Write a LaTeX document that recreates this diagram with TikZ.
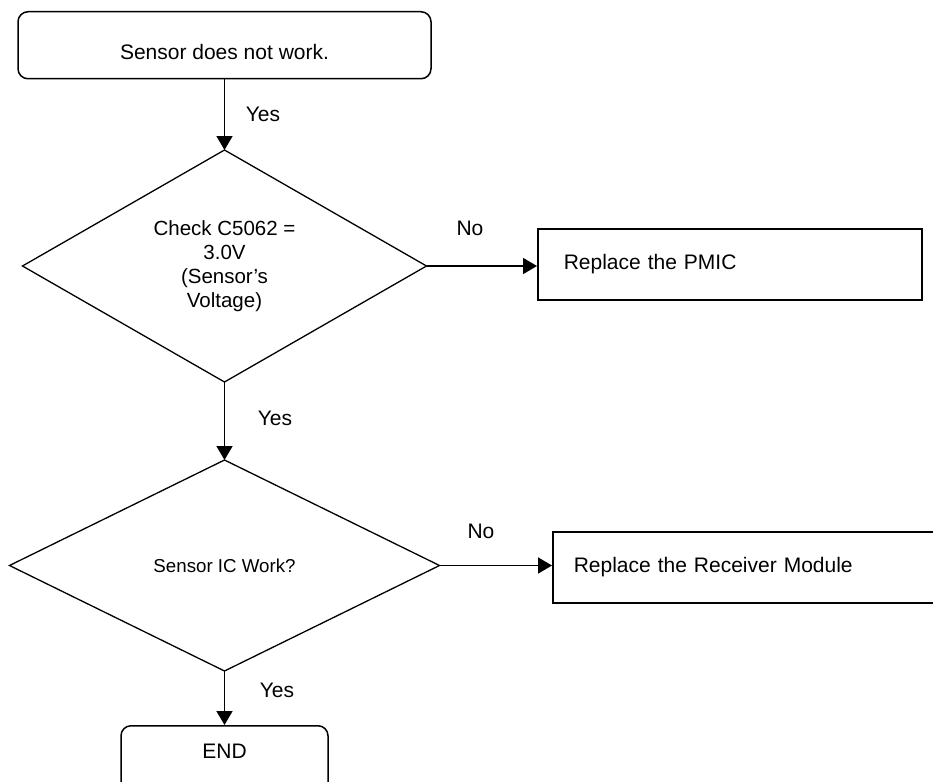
\documentclass[tikz,border=0pt]{standalone}
\usepackage{fontspec}
\setmainfont{Liberation Sans}
\usetikzlibrary{shapes.geometric,arrows.meta}
\begin{document}
\begin{tikzpicture}[
    x=1pt, y=-1pt,
    every node/.style={font=\fontsize{21}{24}\selectfont},
    terminal/.style={rectangle, rounded corners=10pt, draw, line width=1.5pt, inner sep=0pt},
    decision/.style={diamond, draw, line width=1.3pt, inner sep=0pt, outer sep=0pt, align=center},
    action/.style={rectangle, draw, line width=1.5pt, minimum height=71pt, align=left},
    flow/.style={-{Triangle[length=14pt,width=16pt]}, line width=1.7pt},
    answer/.style={inner sep=0pt}
]
    \clip (0,0) rectangle (933,781);

    % Boxes down the middle
    \node[terminal, anchor=north, minimum width=413pt, text height=48pt, text depth=19pt] (start) at (224.5,11) {Sensor does not work.};
    \node[decision, aspect=1.74, minimum width=404pt, minimum height=232pt,
          font=\fontsize{20.5}{24}\selectfont] (volt) at (224.5,266)
        {Check C5062 =\\ 3.0V\\ (Sensor’s\\ Voltage)};
    \node[decision, aspect=2.04, minimum width=430pt, minimum height=211pt,
          font=\fontsize{18.7}{22}\selectfont] (ic) at (224.5,565.5) {Sensor IC Work?};
    \node[terminal, anchor=north, minimum width=207pt, text height=33pt, text depth=40pt] (end) at (224.5,725) {END};

    % Boxes on the right
    \node[action, anchor=west, text width=332pt, inner xsep=26pt] (pmic) at (537,264.5) {Replace the PMIC};
    \node[action, anchor=west, text width=358pt, inner xsep=21pt] (receiver) at (552,567.5) {Replace the Receiver Module};

    % Connectors
    \draw[flow] (start.south) -- (volt.north);
    \draw[flow] (volt.south) -- (ic.north);
    \draw[flow] (ic.south) -- (end.north);
    \draw[flow] (volt.east) -- (volt.east -| pmic.west);
    \draw[flow] (ic.east) -- (ic.east -| receiver.west);

    % Yes / No labels
    \node[answer] (yes1) at (263,114) {Yes};
    \node[answer] (yes2) at (275,418) {Yes};
    \node[answer] (yes3) at (277,690) {Yes};
    \node[answer] (no1) at (470,228) {No};
    \node[answer] (no2) at (481,531) {No};
\end{tikzpicture}
\end{document}
